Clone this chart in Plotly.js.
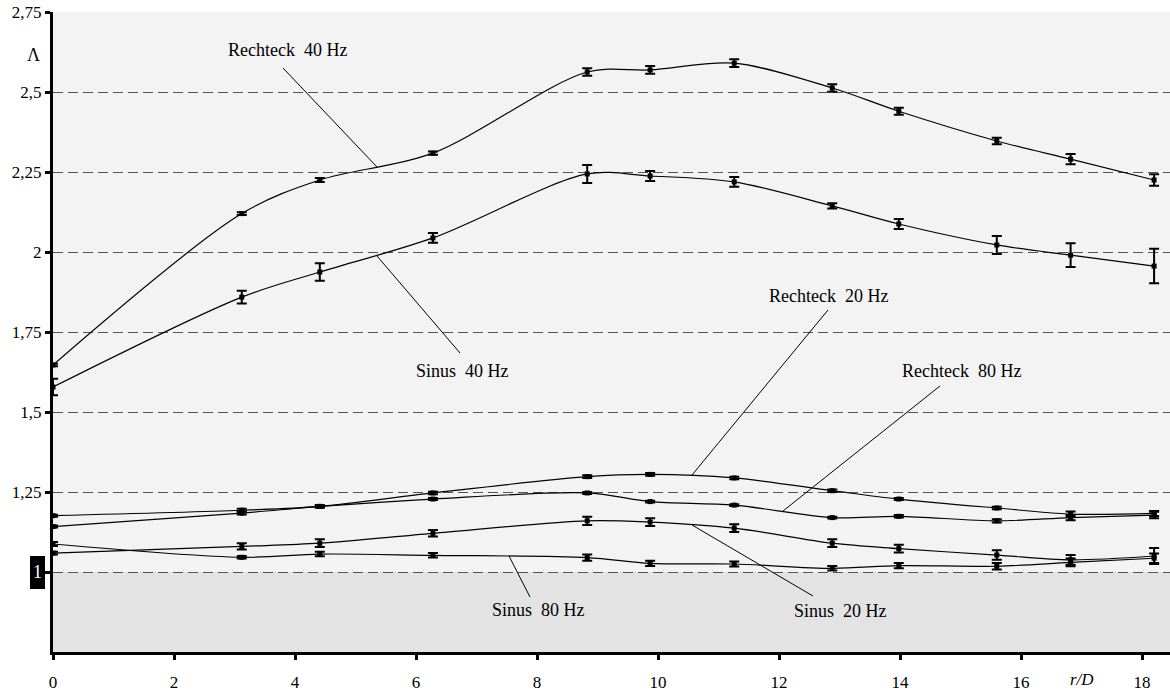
<!DOCTYPE html>
<html>
<head>
<meta charset="utf-8">
<script src="https://cdn.plot.ly/plotly-3.0.1.min.js"></script>
<style>html,body{margin:0;padding:0;background:#fff;}#chart{width:1170px;height:691px;}</style>
</head>
<body>
<div id="chart"></div>
<script>
// r/D positions (shared by all series)
const rD = [0, 3.12, 4.41, 6.28, 8.83, 9.87, 11.26, 12.88, 13.98, 15.6, 16.82, 18.2];

const rechteck40 = [1.647, 2.12, 2.225, 2.309, 2.5625, 2.569, 2.59, 2.5125, 2.44, 2.347, 2.29, 2.225];
const rechteck40Err = [0.004, 0.004, 0.006, 0.005, 0.012, 0.012, 0.012, 0.012, 0.011, 0.010, 0.016, 0.018];

const sinus40 = [1.578, 1.859, 1.9375, 2.044, 2.244, 2.2375, 2.219, 2.144, 2.0875, 2.022, 1.99, 1.956];
const sinus40Err = [0.026, 0.02, 0.027, 0.015, 0.028, 0.016, 0.015, 0.008, 0.016, 0.028, 0.037, 0.054];

const rechteck20 = [1.176, 1.193, 1.205, 1.247, 1.298, 1.305, 1.294, 1.254, 1.228, 1.2, 1.181, 1.183];
const rechteck20Err = [0.003, 0.005, 0.004, 0.004, 0.004, 0.004, 0.004, 0.004, 0.003, 0.004, 0.008, 0.008];

const rechteck80 = [1.142, 1.184, 1.205, 1.228, 1.247, 1.22, 1.209, 1.17, 1.174, 1.16, 1.17, 1.178];
const rechteck80Err = [0.003, 0.004, 0.003, 0.003, 0.003, 0.003, 0.003, 0.003, 0.004, 0.005, 0.008, 0.01];

const sinus20 = [1.059, 1.080, 1.090, 1.121, 1.16, 1.156, 1.137, 1.09, 1.073, 1.053, 1.038, 1.05];
const sinus20Err = [0.004, 0.01, 0.012, 0.01, 0.013, 0.012, 0.012, 0.012, 0.012, 0.015, 0.015, 0.025];

const sinus80 = [1.0875, 1.046, 1.056, 1.052, 1.045, 1.027, 1.025, 1.0115, 1.02, 1.018, 1.03, 1.043];
const sinus80Err = [0.006, 0.004, 0.007, 0.007, 0.01, 0.008, 0.008, 0.007, 0.008, 0.01, 0.012, 0.015];

const yTickVals = [1, 1.25, 1.5, 1.75, 2, 2.25, 2.5, 2.75];
const yTickText = ['', '1,25', '1,5', '1,75', '2', '2,25', '2,5', '2,75'];
const xTickVals = [0, 2, 4, 6, 8, 10, 12, 14, 16, 18];

const seriesNames = ['Rechteck 40 Hz', 'Sinus 40 Hz', 'Rechteck 20 Hz', 'Rechteck 80 Hz', 'Sinus 20 Hz', 'Sinus 80 Hz'];
const seriesVals = [rechteck40, sinus40, rechteck20, rechteck80, sinus20, sinus80];
const seriesErrs = [rechteck40Err, sinus40Err, rechteck20Err, rechteck80Err, sinus20Err, sinus80Err];

const traces = seriesVals.map((v, i) => ({
  type: 'scatter', mode: 'lines+markers', name: seriesNames[i],
  x: rD, y: v,
  line: {color: '#000', width: 1.2, shape: 'spline', smoothing: 0.9},
  marker: {symbol: 'square', size: 5, color: '#000'},
  error_y: {type: 'data', array: seriesErrs[i], visible: true, color: '#000', thickness: 2, width: 5},
  showlegend: false, cliponaxis: false
}));

const F = 'Liberation Serif';
// pixel helpers for annotation placement
const PX = p => (p - 53) / 60.5;
const PY = p => 1 + (572 - p) / 320;

function leader(x0, y0, x1, y1) {
  return {type: 'line', xref: 'x', yref: 'y', x0: PX(x0), y0: PY(y0), x1: PX(x1), y1: PY(y1),
          line: {color: '#000', width: 1}, layer: 'above'};
}
function label(text, px, py) {
  return {xref: 'x', yref: 'y', x: PX(px), y: PY(py), text: text, showarrow: false,
          font: {family: F, size: 18, color: '#000'}, xanchor: 'center', yanchor: 'middle'};
}
const sp = '\u00a0';

const layout = {
  width: 1170, height: 691,
  margin: {l: 53, r: 0, t: 12, b: 39},
  paper_bgcolor: '#fff', plot_bgcolor: '#f3f3f3',
  separators: ',.',
  font: {family: F, color: '#000'},
  xaxis: {
    range: [0, 1117 / 60.5], tickvals: xTickVals, showgrid: false, zeroline: false,
    showline: true, linecolor: '#000', linewidth: 3,
    ticks: 'outside', ticklen: 5, tickwidth: 3, tickcolor: '#000',
    ticklabelstandoff: 8,
    tickfont: {family: F, size: 17, color: '#000'}
  },
  yaxis: {
    range: [0.75, 2.75], tickvals: yTickVals, ticktext: yTickText,
    showgrid: true, gridcolor: '#555', gridwidth: 1, griddash: '10px,5px', zeroline: false,
    showline: true, linecolor: '#000', linewidth: 3,
    ticks: 'outside', ticklen: 5, tickwidth: 3, tickcolor: '#000',
    tickfont: {family: F, size: 17, color: '#000'}
  },
  shapes: [
    {type: 'rect', xref: 'paper', yref: 'y', x0: 0, x1: 1, y0: 0.75, y1: 1,
     fillcolor: '#e3e3e3', line: {width: 0}, layer: 'below'},
    {type: 'rect', xref: 'paper', yref: 'paper', x0: -23 / 1117, x1: -8 / 1117, y0: 63 / 640, y1: 96 / 640,
     fillcolor: '#000', line: {width: 0}, layer: 'above'},
    leader(283, 68, 377, 167),
    leader(377, 256, 460, 353),
    leader(692, 475, 828, 310),
    leader(783, 511, 940, 386),
    leader(692, 525, 813, 596),
    leader(509, 556, 530, 597)
  ],
  annotations: [
    label('Rechteck' + sp + ' 40 Hz', 287, 50),
    label('Sinus' + sp + ' 40 Hz', 462, 371),
    label('Rechteck' + sp + ' 20 Hz', 828, 296),
    label('Rechteck' + sp + ' 80 Hz', 961, 371),
    label('Sinus' + sp + ' 20 Hz', 840, 611),
    label('Sinus' + sp + ' 80 Hz', 538, 610),
    {xref: 'paper', yref: 'paper', x: -16 / 1117, y: (652 - 572) / 640, text: '1', showarrow: false,
     font: {family: F, size: 18, color: '#fff'}, xanchor: 'center', yanchor: 'middle'},
    {xref: 'paper', yref: 'paper', x: -20 / 1117, y: (652 - 55) / 640, text: 'Λ', showarrow: false,
     font: {family: F, size: 18, color: '#000'}, xanchor: 'center', yanchor: 'middle'},
    {xref: 'paper', yref: 'paper', x: (1082 - 53) / 1117, y: -(679 - 652) / 640, text: '<i>r/D</i>', showarrow: false,
     font: {family: F, size: 17, color: '#000'}, xanchor: 'center', yanchor: 'middle'}
  ]
};

Plotly.newPlot('chart', traces, layout, {staticPlot: true, displayModeBar: false});
</script>
</body>
</html>
